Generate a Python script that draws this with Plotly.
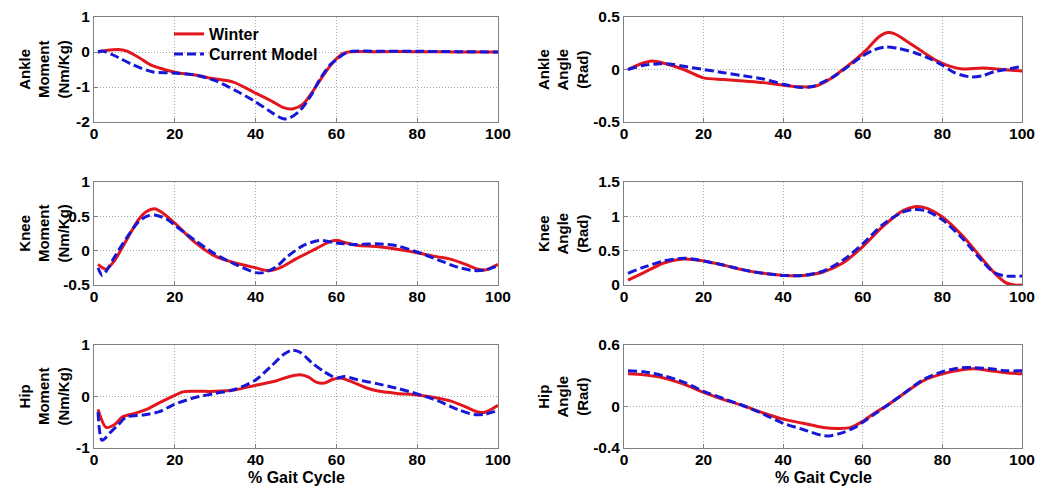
import plotly.graph_objects as go

# ---------------- data ----------------
am_x_w = [1, 3, 6, 8, 11, 14, 18, 21, 25, 29.5, 34.5, 39.4, 44.4, 46.9, 49.3, 51.8, 54.3, 56.8, 59.3, 61.7, 63, 70, 80, 90, 100]
am_y_w = [0, 0.04, 0.07, 0.03, -0.15, -0.37, -0.52, -0.6, -0.66, -0.76, -0.86, -1.14, -1.43, -1.59, -1.62, -1.48, -1.1, -0.66, -0.28, -0.04, 0.0, 0.01, 0.01, 0.0, 0.0]
am_x_m = [1, 2, 5, 9.7, 14.6, 19.6, 25, 30, 35, 39.4, 44.4, 46.9, 48.5, 51, 53.5, 56, 58.4, 60, 62, 64, 70, 80, 90, 100]
am_y_m = [0, 0.03, -0.1, -0.37, -0.57, -0.6, -0.66, -0.82, -1.1, -1.38, -1.76, -1.91, -1.88, -1.67, -1.28, -0.76, -0.37, -0.22, -0.05, 0.02, 0.02, 0.02, 0.01, 0.0]

aa_x_w = [1, 4, 7, 10, 15, 20, 25, 30, 35, 40, 44, 48, 52, 55, 58, 61, 64, 66, 68, 71, 75, 79, 82, 85, 90, 95, 100]
aa_y_w = [0, 0.05, 0.08, 0.06, 0.0, -0.08, -0.095, -0.11, -0.125, -0.15, -0.165, -0.16, -0.085, 0.0, 0.09, 0.19, 0.31, 0.35, 0.34, 0.27, 0.17, 0.075, 0.03, 0.005, 0.015, 0.0, -0.015]
aa_x_m = [1, 5, 9, 12, 15, 20, 25, 30, 35, 40, 44, 47, 50, 53, 56, 60, 63, 66, 69, 73, 77, 80, 83, 87, 90, 93, 96, 100]
aa_y_m = [0, 0.04, 0.055, 0.05, 0.03, 0.0, -0.03, -0.06, -0.09, -0.14, -0.17, -0.165, -0.12, -0.06, 0.02, 0.13, 0.19, 0.215, 0.2, 0.16, 0.1, 0.04, -0.03, -0.07, -0.06, -0.02, 0.0, 0.03]

km_x_w = [1, 3, 5, 8, 11, 13, 15, 17, 20, 25, 30, 35, 40, 43, 46, 50, 55, 58, 60, 62, 65, 70, 75, 80, 85, 88, 92, 95, 97, 100]
km_y_w = [-0.2, -0.27, -0.15, 0.15, 0.45, 0.57, 0.61, 0.55, 0.4, 0.12, -0.08, -0.18, -0.25, -0.29, -0.25, -0.12, 0.03, 0.12, 0.15, 0.12, 0.08, 0.06, 0.02, -0.03, -0.09, -0.12, -0.2, -0.27, -0.28, -0.2]
km_x_m = [1, 2, 3, 5, 8, 11, 13, 15, 18, 20, 25, 30, 35, 40, 42, 45, 48, 52, 56, 60, 65, 70, 75, 80, 85, 90, 94, 97, 100]
km_y_m = [-0.25, -0.36, -0.3, -0.1, 0.18, 0.42, 0.5, 0.52, 0.46, 0.37, 0.15, -0.05, -0.2, -0.32, -0.32, -0.24, -0.08, 0.08, 0.15, 0.11, 0.09, 0.1, 0.07, -0.02, -0.13, -0.24, -0.29, -0.28, -0.22]

ka_x_w = [1, 5, 10, 15, 20, 25, 30, 35, 40, 45, 50, 55, 60, 65, 70, 73, 76, 80, 85, 90, 93, 96, 98, 100]
ka_y_w = [0.07, 0.18, 0.32, 0.38, 0.35, 0.29, 0.22, 0.17, 0.14, 0.14, 0.19, 0.32, 0.56, 0.85, 1.08, 1.14, 1.12, 0.99, 0.72, 0.38, 0.18, 0.03, 0.0, 0.0]
ka_x_m = [1, 5, 10, 15, 20, 25, 30, 35, 40, 45, 50, 55, 60, 65, 70, 73, 76, 80, 85, 90, 93, 96, 100]
ka_y_m = [0.17, 0.26, 0.35, 0.39, 0.35, 0.29, 0.22, 0.17, 0.14, 0.14, 0.2, 0.36, 0.6, 0.88, 1.06, 1.1, 1.08, 0.95, 0.68, 0.35, 0.18, 0.13, 0.13]

hm_x_w = [1, 3, 5, 7, 10, 13, 16, 20, 22, 25, 30, 35, 40, 45, 48, 51, 53, 55, 57, 59, 61, 64, 67, 70, 75, 80, 85, 88, 92, 95, 97, 100]
hm_y_w = [-0.25, -0.6, -0.55, -0.4, -0.33, -0.25, -0.13, 0.02, 0.09, 0.1, 0.1, 0.13, 0.22, 0.3, 0.38, 0.42, 0.38, 0.28, 0.26, 0.33, 0.36, 0.28, 0.18, 0.11, 0.06, 0.03, -0.03, -0.08, -0.2, -0.3, -0.3, -0.17]
hm_x_m = [1, 2, 4, 6, 8, 12, 16, 20, 25, 30, 35, 40, 44, 47, 49, 51, 54, 57, 60, 62, 65, 70, 75, 80, 85, 90, 94, 97, 100]
hm_y_m = [-0.3, -0.85, -0.7, -0.55, -0.4, -0.36, -0.3, -0.15, -0.02, 0.06, 0.14, 0.32, 0.6, 0.82, 0.9, 0.86, 0.65, 0.48, 0.36, 0.39, 0.33, 0.25, 0.16, 0.05, -0.08, -0.25, -0.35, -0.34, -0.27]

ha_x_w = [1, 5, 10, 15, 20, 25, 30, 35, 40, 45, 50, 54, 57, 60, 63, 66, 70, 75, 80, 85, 88, 92, 96, 100]
ha_y_w = [0.32, 0.31, 0.28, 0.22, 0.14, 0.07, 0.01, -0.06, -0.12, -0.16, -0.2, -0.21, -0.2, -0.14, -0.06, 0.01, 0.12, 0.25, 0.32, 0.36, 0.37, 0.35, 0.33, 0.32]
ha_x_m = [1, 5, 10, 15, 20, 25, 30, 35, 40, 45, 50, 52, 55, 58, 60, 63, 66, 70, 75, 80, 85, 88, 92, 96, 100]
ha_y_m = [0.35, 0.34, 0.3, 0.24, 0.15, 0.08, 0.01, -0.07, -0.16, -0.22, -0.28, -0.28, -0.25, -0.2, -0.15, -0.07, 0.01, 0.12, 0.26, 0.34, 0.38, 0.38, 0.37, 0.35, 0.35]

x_ticks = [0, 20, 40, 60, 80, 100]
panel_titles = ["Ankle<br>Moment<br>(Nm/Kg)", "Ankle<br>Angle<br>(Rad)",
                "Knee<br>Moment<br>(Nm/Kg)", "Knee<br>Angle<br>(Rad)",
                "Hip<br>Moment<br>(Nm/Kg)", "Hip<br>Angle<br>(Rad)"]
y_ranges = [[-2, 1], [-0.5, 0.5], [-0.5, 1], [0, 1.5], [-1, 1], [-0.4, 0.6]]
y_ticks = [[-2, -1, 0, 1], [-0.5, 0, 0.5], [-0.5, 0, 0.5, 1], [0, 0.5, 1, 1.5], [-1, 0, 1], [-0.4, 0, 0.6]]
y_ticktext = [["-2", "-1", "0", "1"], ["-0.5", "0", "0.5"], ["-0.5", "0", "0.5", "1"],
              ["0", "0.5", "1", "1.5"], ["-1", "0", "1"], ["-0.4", "0", "0.6"]]
series = [(am_x_w, am_y_w, am_x_m, am_y_m), (aa_x_w, aa_y_w, aa_x_m, aa_y_m),
          (km_x_w, km_y_w, km_x_m, km_y_m), (ka_x_w, ka_y_w, ka_x_m, ka_y_m),
          (hm_x_w, hm_y_w, hm_x_m, hm_y_m), (ha_x_w, ha_y_w, ha_x_m, ha_y_m)]
names = ["Winter", "Current Model"]

# ---------------- layout geometry (page pixels; page body has 8px margin) ----------------
OFF = 8
W, H = 1042, 486
col_px = [(94, 498), (624, 1022)]
row_px = [(17, 122), (182, 285), (345, 448)]
title_x_px = [43, 562]


def fx(px):
    return (px - OFF) / W


def fy(py):
    return 1 - (py - OFF) / H


RED = "#e3151d"
BLUE = "#1717d8"
FONT = "Liberation Sans, Arial, sans-serif"

fig = go.Figure()
annotations = []
for i in range(6):
    r, c = divmod(i, 2)
    ax = "" if i == 0 else str(i + 1)
    xw, yw, xm, ym = series[i]
    fig.add_trace(go.Scatter(x=xw, y=yw, mode="lines", name=names[0], legend="legend",
                             line=dict(color=RED, width=3, shape="spline", smoothing=0.8),
                             xaxis="x" + ax, yaxis="y" + ax, showlegend=(i == 0)))
    fig.add_trace(go.Scatter(x=xm, y=ym, mode="lines", name=names[1], legend="legend2",
                             line=dict(color=BLUE, width=3, dash="9px,4px", shape="spline", smoothing=0.8),
                             xaxis="x" + ax, yaxis="y" + ax, showlegend=(i == 0)))
    x0, x1 = col_px[c]
    y0, y1 = row_px[r]
    common = dict(showline=True, linecolor="#7f7f7f", linewidth=1, mirror=True, automargin=False,
                  showgrid=True, gridcolor="#a8a8a8", griddash="1px,2px", gridwidth=1,
                  ticks="inside", ticklen=4, tickcolor="#7f7f7f", zeroline=False,
                  tickfont=dict(family=FONT, size=15.5, color="black", weight="bold"))
    fig.layout["xaxis" + ax] = dict(domain=[fx(x0), fx(x1)], range=[0, 100], tickvals=x_ticks,
                                    anchor="y" + ax, ticklabelstandoff=-3, **common)
    fig.layout["yaxis" + ax] = dict(domain=[fy(y1), fy(y0)], range=y_ranges[i],
                                    tickvals=y_ticks[i], ticktext=y_ticktext[i],
                                    anchor="x" + ax, **common)
    annotations.append(dict(text=panel_titles[i], xref="paper", yref="paper",
                            x=fx(title_x_px[c]), y=fy((y0 + y1) / 2),
                            xanchor="center", yanchor="middle", textangle=-90, showarrow=False,
                            font=dict(family=FONT, size=15, color="black", weight="bold")))
    if r == 2:
        annotations.append(dict(text="% Gait Cycle", xref="paper", yref="paper",
                                x=fx((x0 + x1) / 2), y=fy(477), xanchor="center", yanchor="middle",
                                showarrow=False,
                                font=dict(family=FONT, size=16, color="black", weight="bold")))

leg_common = dict(xanchor="left", yanchor="top", bgcolor="rgba(0,0,0,0)", borderwidth=0,
                  font=dict(family=FONT, size=16, color="black", weight="bold"))
fig.update_layout(
    width=W, height=H, margin=dict(l=0, r=0, t=0, b=0),
    paper_bgcolor="white", plot_bgcolor="white",
    annotations=annotations,
    legend=dict(x=fx(169), y=fy(17), **leg_common),
    legend2=dict(x=fx(169), y=fy(37), **leg_common),
)
fig.write_html("out.html")
